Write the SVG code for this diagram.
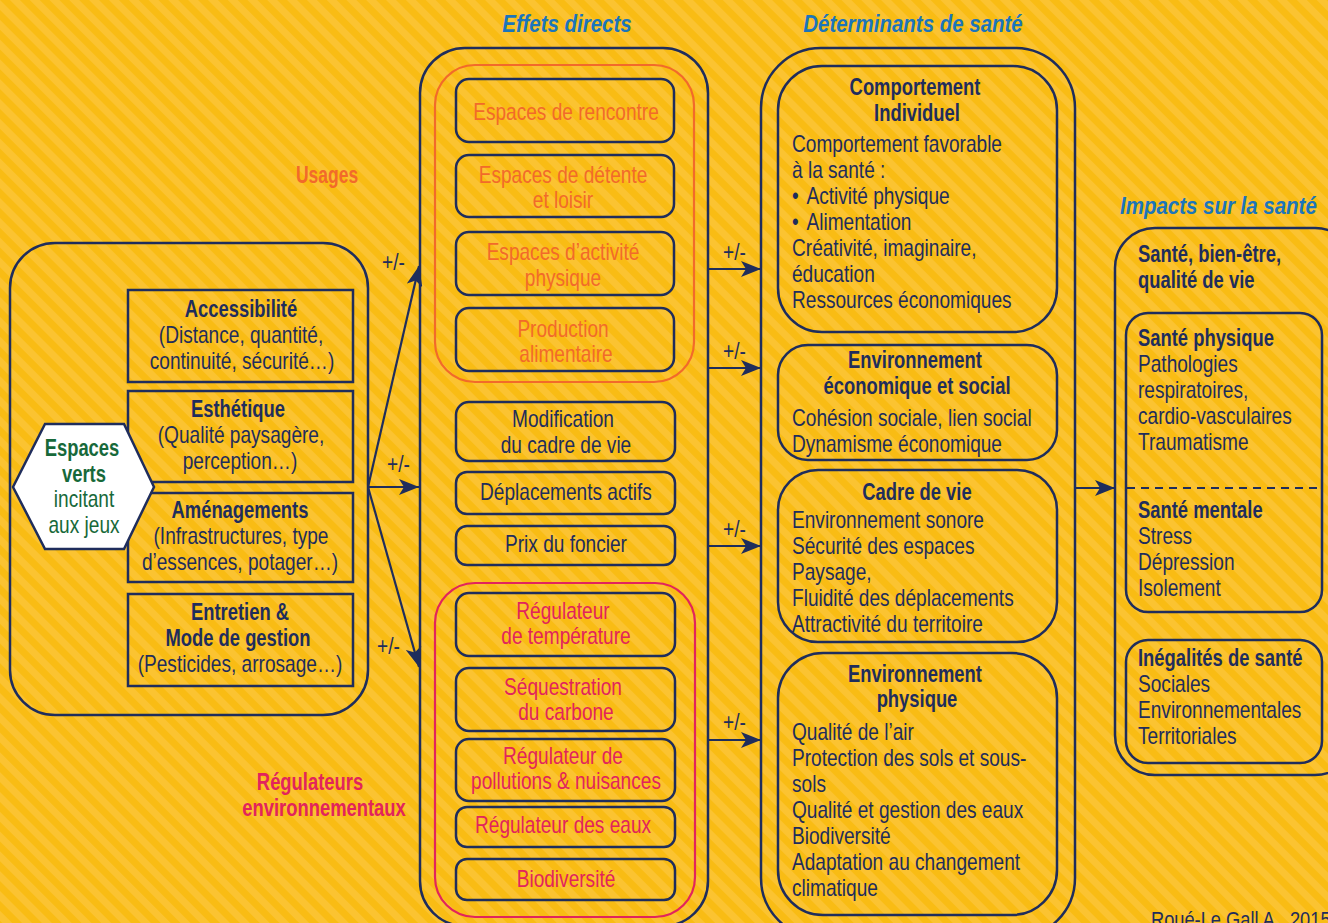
<svg xmlns="http://www.w3.org/2000/svg" width="1328" height="923" viewBox="0 0 1328 923">
<defs>
<pattern id="stripes" patternUnits="userSpaceOnUse" width="14" height="14" patternTransform="rotate(-45)">
<rect x="0" y="0" width="14" height="14" fill="#FBC331"/>
<rect x="0" y="0" width="7" height="14" fill="#F9BC14"/>
</pattern>
<marker id="arr" markerUnits="userSpaceOnUse" markerWidth="22" markerHeight="16" refX="20" refY="8" orient="auto">
<path d="M0,0 L20,8 L0,16 L5,8 z" fill="#1F2D5C"/>
</marker>
<style>
text{font-family:"Liberation Sans",Arial,sans-serif;font-size:23px;fill:#1F2D5C;transform-box:fill-box;transform-origin:0 0;transform:scaleX(.83)}
.c{text-anchor:middle;transform-origin:50% 0}
.b{font-weight:bold;transform:scaleX(.8)}
.t{font-weight:bold;font-style:italic;fill:#1B75BB;transform:scaleX(.89)}
.o{fill:#F26A2A}
.r{fill:#E2245C}
.g{fill:#17693A}
.box{fill:none;stroke:#1F2D5C;stroke-width:2.5}
.obox{fill:none;stroke:#F26A2A;stroke-width:2.2}
.rbox{fill:none;stroke:#E2245C;stroke-width:2.2}
.ln{fill:none;stroke:#1F2D5C;stroke-width:2.2}
</style>
</defs>
<rect x="0" y="0" width="1328" height="923" fill="url(#stripes)"/>

<g id="titles">
<text class="t c" x="567" y="32">Effets directs</text>
<text class="t c" x="913" y="32">Déterminants de santé</text>
<text class="t" x="1120" y="214">Impacts sur la santé</text>
<text class="b o" x="296" y="183" style="transform:scaleX(.76)">Usages</text>
<text class="b r c" x="310" y="790">Régulateurs</text>
<text class="b r c" x="324" y="816">environnementaux</text>
<text x="1151" y="927" style="font-size:22px">Roué-Le Gall A., 2015</text>
</g>

<g id="espaces-verts-group">
<rect class="box" x="10" y="243" width="358" height="472" rx="45"/>
</g>
<g id="accessibilite">
<rect class="box" x="128" y="290" width="225" height="92"/>
<text class="b c" x="241" y="317">Accessibilité</text>
<text class="c" x="241" y="343">(Distance, quantité,</text>
<text class="c" x="242" y="369">continuité, sécurité…)</text>
</g>
<g id="esthetique">
<rect class="box" x="128" y="391" width="225" height="91"/>
<text class="b c" x="238" y="417">Esthétique</text>
<text class="c" x="241" y="443">(Qualité paysagère,</text>
<text class="c" x="240" y="469">perception…)</text>
</g>
<g id="amenagements">
<rect class="box" x="128" y="493" width="225" height="89"/>
<text class="b c" x="240" y="518">Aménagements</text>
<text class="c" x="241" y="544">(Infrastructures, type</text>
<text class="c" x="240" y="570">d’essences, potager…)</text>
</g>
<g id="entretien">
<rect class="box" x="128" y="594" width="225" height="92"/>
<text class="b c" x="240" y="620">Entretien &amp;</text>
<text class="b c" x="238" y="646">Mode de gestion</text>
<text class="c" x="240" y="672">(Pesticides, arrosage…)</text>
</g>
<g id="espaces-verts">
<polygon points="13,487 45,424 124,424 154,487 124,549 45,549" fill="#FFFFFF" stroke="#1F2D5C" stroke-width="2.5"/>
<text class="b g c" x="82" y="456">Espaces</text>
<text class="b g c" x="84" y="482">verts</text>
<text class="g c" x="84" y="507">incitant</text>
<text class="g c" x="84" y="533">aux jeux</text>
</g>

<g id="effets-directs">
<rect class="box" x="420" y="48" width="288" height="878" rx="45"/>
</g>
<g id="usages">
<rect class="obox" x="435" y="65" width="259" height="317" rx="40"/>
</g>
<g id="rencontre">
<rect class="box" x="456" y="79" width="218" height="63" rx="13"/>
<text class="o c" x="566" y="120">Espaces de rencontre</text>
</g>
<g id="detente">
<rect class="box" x="456" y="155" width="218" height="62" rx="13"/>
<text class="o c" x="563" y="183">Espaces de détente</text>
<text class="o c" x="563" y="208">et loisir</text>
</g>
<g id="activite">
<rect class="box" x="456" y="232" width="218" height="63" rx="13"/>
<text class="o c" x="563" y="260">Espaces d’activité</text>
<text class="o c" x="563" y="286">physique</text>
</g>
<g id="production">
<rect class="box" x="456" y="308" width="218" height="63" rx="13"/>
<text class="o c" x="563" y="337">Production</text>
<text class="o c" x="566" y="362">alimentaire</text>
</g>
<g id="modification">
<rect class="box" x="456" y="402" width="219" height="59" rx="13"/>
<text class="c" x="563" y="427">Modification</text>
<text class="c" x="566" y="453">du cadre de vie</text>
</g>
<g id="deplacements">
<rect class="box" x="456" y="472" width="219" height="42" rx="11"/>
<text class="c" x="566" y="500">Déplacements actifs</text>
</g>
<g id="foncier">
<rect class="box" x="456" y="526" width="219" height="39" rx="11"/>
<text class="c" x="566" y="552">Prix du foncier</text>
</g>
<g id="regulateurs">
<rect class="rbox" x="435" y="583" width="260" height="334" rx="40"/>
</g>
<g id="temperature">
<rect class="box" x="456" y="593" width="219" height="63" rx="13"/>
<text class="r c" x="563" y="619">Régulateur</text>
<text class="r c" x="566" y="644">de température</text>
</g>
<g id="carbone">
<rect class="box" x="456" y="668" width="219" height="63" rx="13"/>
<text class="r c" x="563" y="695">Séquestration</text>
<text class="r c" x="566" y="720">du carbone</text>
</g>
<g id="pollutions">
<rect class="box" x="456" y="739" width="219" height="62" rx="13"/>
<text class="r c" x="563" y="764">Régulateur de</text>
<text class="r c" x="566" y="789">pollutions &amp; nuisances</text>
</g>
<g id="eaux">
<rect class="box" x="456" y="807" width="219" height="40" rx="11"/>
<text class="r c" x="563" y="833">Régulateur des eaux</text>
</g>
<g id="biodiversite">
<rect class="box" x="456" y="859" width="219" height="41" rx="11"/>
<text class="r c" x="566" y="887">Biodiversité</text>
</g>

<g id="determinants">
<rect class="box" x="761" y="48" width="314" height="890" rx="60"/>
</g>
<g id="comportement">
<rect class="box" x="778" y="66" width="279" height="266" rx="44"/>
<text class="b c" x="915" y="95">Comportement</text>
<text class="b c" x="917" y="121">Individuel</text>
<text x="792" y="152">Comportement favorable</text>
<text x="792" y="178">à la santé :</text>
<text x="792" y="204">• <tspan dx="3">Activité physique</tspan></text>
<text x="792" y="230">• <tspan dx="3">Alimentation</tspan></text>
<text x="792" y="256">Créativité, imaginaire,</text>
<text x="792" y="282">éducation</text>
<text x="792" y="308">Ressources économiques</text>
</g>
<g id="env-eco">
<rect class="box" x="778" y="345" width="279" height="115" rx="30"/>
<text class="b c" x="915" y="368">Environnement</text>
<text class="b c" x="917" y="394">économique et social</text>
<text x="792" y="426">Cohésion sociale, lien social</text>
<text x="792" y="452">Dynamisme économique</text>
</g>
<g id="cadre-de-vie">
<rect class="box" x="778" y="470" width="279" height="172" rx="40"/>
<text class="b c" x="917" y="500">Cadre de vie</text>
<text x="792" y="528">Environnement sonore</text>
<text x="792" y="554">Sécurité des espaces</text>
<text x="792" y="580">Paysage,</text>
<text x="792" y="606">Fluidité des déplacements</text>
<text x="792" y="632">Attractivité du territoire</text>
</g>
<g id="env-physique">
<rect class="box" x="778" y="653" width="279" height="262" rx="45"/>
<text class="b c" x="915" y="682">Environnement</text>
<text class="b c" x="917" y="707">physique</text>
<text x="792" y="740">Qualité de l’air</text>
<text x="792" y="766">Protection des sols et sous-</text>
<text x="792" y="792">sols</text>
<text x="792" y="818">Qualité et gestion des eaux</text>
<text x="792" y="844">Biodiversité</text>
<text x="792" y="870">Adaptation au changement</text>
<text x="792" y="896">climatique</text>
</g>

<g id="impacts">
<rect class="box" x="1115" y="228" width="240" height="547" rx="40"/>
<text class="b" x="1138" y="262">Santé, bien-être,</text>
<text class="b" x="1138" y="288">qualité de vie</text>
</g>
<g id="sante-physique-mentale">
<rect class="box" x="1126" y="313" width="196" height="299" rx="22"/>
<text class="b" x="1138" y="346">Santé physique</text>
<text x="1138" y="372">Pathologies</text>
<text x="1138" y="398">respiratoires,</text>
<text x="1138" y="424">cardio-vasculaires</text>
<text x="1138" y="450">Traumatisme</text>
<line x1="1127" y1="488" x2="1321" y2="488" stroke="#1F2D5C" stroke-width="2" stroke-dasharray="8,6"/>
<text class="b" x="1138" y="518">Santé mentale</text>
<text x="1138" y="544">Stress</text>
<text x="1138" y="570">Dépression</text>
<text x="1138" y="596">Isolement</text>
</g>
<g id="inegalites">
<rect class="box" x="1126" y="640" width="196" height="123" rx="22"/>
<text class="b" x="1138" y="666">Inégalités de santé</text>
<text x="1138" y="692">Sociales</text>
<text x="1138" y="718">Environnementales</text>
<text x="1138" y="744">Territoriales</text>
</g>

<g id="connectors">
<line class="ln" x1="368" y1="487" x2="419" y2="266" marker-end="url(#arr)"/>
<line class="ln" x1="368" y1="487" x2="419" y2="487" marker-end="url(#arr)"/>
<line class="ln" x1="368" y1="487" x2="419" y2="667" marker-end="url(#arr)"/>
<line class="ln" x1="708" y1="269" x2="761" y2="269" marker-end="url(#arr)"/>
<line class="ln" x1="708" y1="368" x2="761" y2="368" marker-end="url(#arr)"/>
<line class="ln" x1="708" y1="546" x2="761" y2="546" marker-end="url(#arr)"/>
<line class="ln" x1="708" y1="740" x2="761" y2="740" marker-end="url(#arr)"/>
<line class="ln" x1="1075" y1="488" x2="1115" y2="488" marker-end="url(#arr)"/>
<text x="382" y="270">+/-</text>
<text x="387" y="472">+/-</text>
<text x="377" y="654">+/-</text>
<text x="723" y="260">+/-</text>
<text x="723" y="359">+/-</text>
<text x="723" y="537">+/-</text>
<text x="723" y="730">+/-</text>
</g>
</svg>
